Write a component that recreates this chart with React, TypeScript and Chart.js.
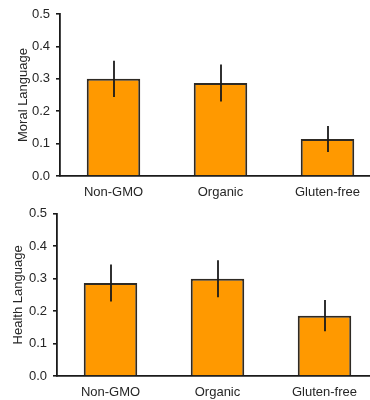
import React, { useEffect, useRef } from "react";
import { Chart, registerables } from "chart.js";

Chart.register(...registerables);

const categories = ["Non-GMO", "Organic", "Gluten-free"];
const moralValues = [0.3, 0.287, 0.114];
const moralErrors = [0.056, 0.057, 0.04];
const healthValues = [0.287, 0.3, 0.186];
const healthErrors = [0.057, 0.057, 0.048];
const yMin = 0;
const yMax = 0.5;
const yStep = 0.1;

const FONT = "'Liberation Sans', Arial, sans-serif";
const TEXT = "#262626";
const LINE = "#1a1a1a";
const BAR = "#FF9900";

const errorBarPlugin = {
  id: "errorBars",
  afterDatasetsDraw(chart: any) {
    const errs: number[] = chart.options.plugins.errorBars?.errors || [];
    const meta = chart.getDatasetMeta(0);
    const ys = chart.scales.y;
    const ctx = chart.ctx;
    const vals = chart.data.datasets[0].data as number[];
    ctx.save();
    ctx.strokeStyle = LINE;
    ctx.lineWidth = 1.8;
    meta.data.forEach((bar: any, i: number) => {
      const v = vals[i];
      const e = errs[i] || 0;
      const x = Math.round(bar.x);
      ctx.beginPath();
      ctx.moveTo(x, ys.getPixelForValue(v + e));
      ctx.lineTo(x, ys.getPixelForValue(v - e));
      ctx.stroke();
    });
    ctx.restore();
  },
};

function BarPanel(props: {
  values: number[];
  errors: number[];
  title: string;
  yWidth: number;
  top: number;
  bottomH: number;
  rightPad: number;
  titlePad: number;
}) {
  const ref = useRef<HTMLCanvasElement>(null);
  useEffect(() => {
    if (!ref.current) return;
    const chart = new Chart(ref.current, {
      type: "bar",
      data: {
        labels: categories,
        datasets: [
          {
            data: props.values,
            backgroundColor: BAR,
            borderColor: "#2e2a24",
            borderWidth: 2,
            borderSkipped: "bottom",
            barPercentage: 0.5,
            categoryPercentage: 1,
          },
        ],
      },
      options: {
        responsive: false,
        animation: false,
        devicePixelRatio: 1,
        layout: { padding: { top: props.top, right: props.rightPad, left: 0, bottom: 0 } },
        plugins: {
          legend: { display: false },
          tooltip: { enabled: false },
          errorBars: { errors: props.errors },
        } as any,
        scales: {
          x: {
            grid: { display: false, drawTicks: false },
            border: { display: true, color: LINE, width: 1.8 },
            ticks: { color: TEXT, font: { family: FONT, size: 13 }, padding: 9 },
            afterFit(scale: any) {
              scale.height = props.bottomH;
            },
          },
          y: {
            min: yMin,
            max: yMax,
            grid: {
              display: true,
              drawOnChartArea: false,
              drawTicks: true,
              tickLength: 4,
              color: LINE,
              lineWidth: 1.6,
            },
            border: { display: true, color: LINE, width: 1.8 },
            ticks: {
              stepSize: yStep,
              color: TEXT,
              font: { family: FONT, size: 13 },
              padding: 6,
              callback: (v: any) => Number(v).toFixed(1),
            },
            title: {
              display: true,
              text: props.title,
              color: TEXT,
              font: { family: FONT, size: 13 },
              padding: { top: props.titlePad, bottom: 0 },
            },
            afterFit(scale: any) {
              scale.width = props.yWidth;
            },
          },
        },
      } as any,
      plugins: [errorBarPlugin],
    });
    return () => chart.destroy();
  }, []);
  return <canvas ref={ref} width={381} height={200} style={{ display: "block", width: 381, height: 200 }} />;
}

export default function App() {
  return (
    <div
      style={{
        position: "absolute",
        left: 0,
        top: 0,
        width: 370,
        height: 400,
        overflow: "hidden",
        background: "#fff",
      }}
    >
      <BarPanel
        values={moralValues}
        errors={moralErrors}
        title="Moral Language"
        yWidth={60}
        top={14}
        bottomH={24}
        rightPad={0}
        titlePad={16}
      />
      <BarPanel
        values={healthValues}
        errors={healthErrors}
        title="Health Language"
        yWidth={57}
        top={13}
        bottomH={24}
        rightPad={3}
        titlePad={11}
      />
    </div>
  );
}
